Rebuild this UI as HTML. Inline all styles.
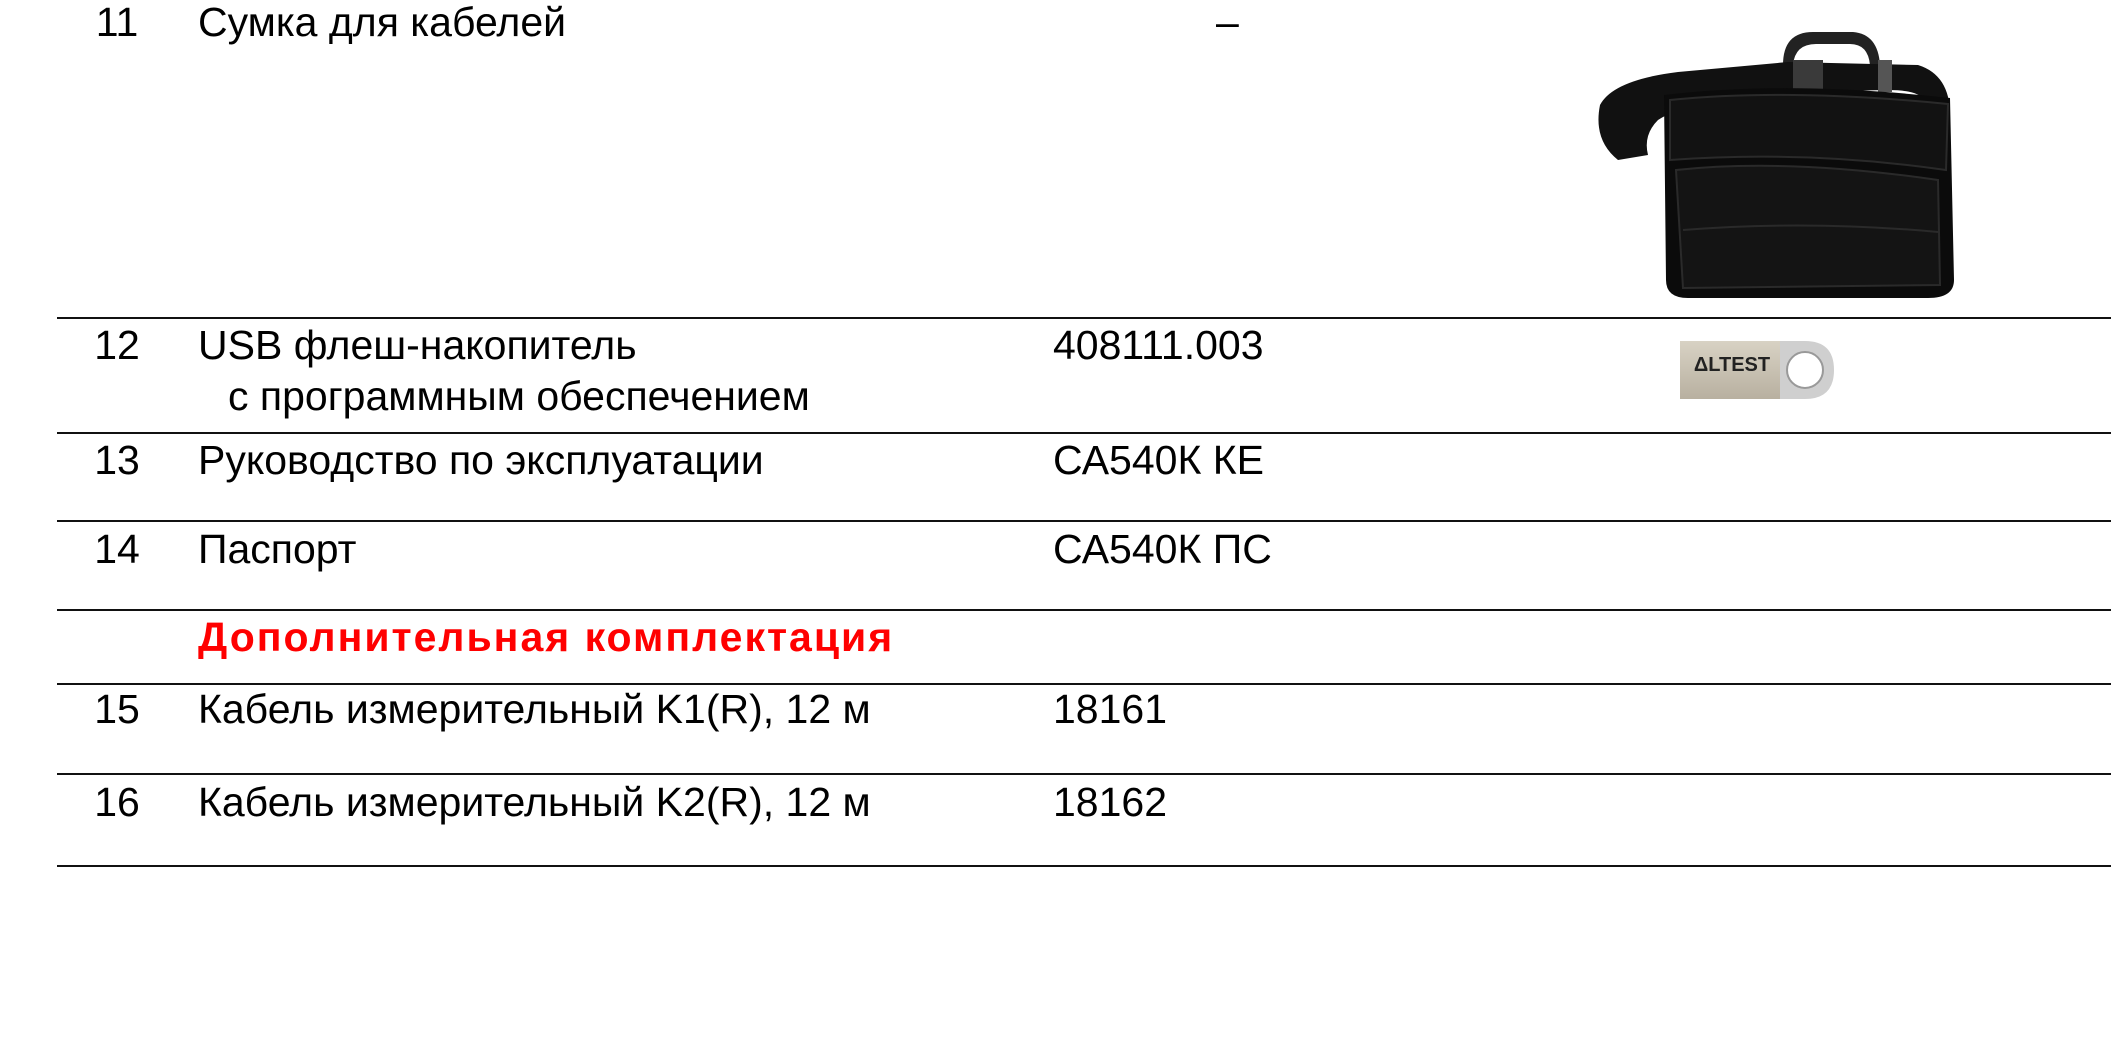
<!DOCTYPE html>
<html><head><meta charset="utf-8"><style>
body{margin:0;width:2111px;height:1040px;background:#fff;position:relative;overflow:hidden;font-family:"Liberation Sans",sans-serif;}
.t{position:absolute;font-size:41px;line-height:1;color:#000;white-space:nowrap;}
.l{position:absolute;left:57px;right:0;height:2px;background:#111;}
.n{width:50px;text-align:center;left:92px;}
</style></head><body>
<div class="t n" style="top:2px">11</div>
<div class="t" style="left:198px;top:2px">Сумка для кабелей</div>
<div class="t" style="left:1216px;top:2px">–</div>
<svg style="position:absolute;left:1588px;top:20px" width="370" height="280" viewBox="0 0 370 280">
<path d="M195 45 Q195 12 225 12 L265 12 Q290 14 292 45 L282 45 Q280 24 262 24 L228 24 Q207 24 205 45Z" fill="#222"/>
<path d="M30 140 Q5 120 12 85 Q25 60 90 52 L200 42 L330 45 Q362 55 362 95 L362 130 L338 130 L336 80 Q330 70 300 70 L200 72 Q100 80 70 100 Q55 115 60 135 Z" fill="#111"/>
<rect x="205" y="40" width="30" height="40" fill="#3a3a3a"/>
<rect x="290" y="40" width="14" height="32" fill="#555"/>
<path d="M76 75 Q200 60 362 78 L366 260 Q366 278 340 278 L100 278 Q78 278 78 260 Z" fill="#0b0b0b"/>
<path d="M82 80 Q200 68 360 84 L358 150 Q220 130 82 140 Z" fill="#121212" stroke="#2a2a2a" stroke-width="2"/>
<path d="M88 150 Q200 138 350 160 L352 265 L95 268 Z" fill="#141414" stroke="#2a2a2a" stroke-width="2"/>
<path d="M95 210 Q220 200 350 212" stroke="#2a2a2a" stroke-width="2" fill="none"/>
</svg>
<svg style="position:absolute;left:1680px;top:339px" width="154" height="63" viewBox="0 0 154 63">
<defs><linearGradient id="g" x1="0" y1="0" x2="0" y2="1"><stop offset="0" stop-color="#d8d2c4"/><stop offset="1" stop-color="#b8b0a0"/></linearGradient></defs>
<rect x="0" y="2" width="125" height="58" fill="url(#g)"/>
<path d="M100 2 L125 2 Q154 2 154 31 Q154 60 125 60 L100 60Z" fill="#cfcfcf"/>
<circle cx="125" cy="31" r="18" fill="#fff" stroke="#999" stroke-width="2"/>
<text x="52" y="32" font-family="Liberation Sans,sans-serif" font-size="20" font-weight="bold" text-anchor="middle" fill="#222">ΔLTEST</text>
</svg>
<div class="l" style="top:317px"></div>
<div class="t n" style="top:325px">12</div>
<div class="t" style="left:198px;top:325px">USB флеш-накопитель</div>
<div class="t" style="left:228px;top:376px">с программным обеспечением</div>
<div class="t" style="left:1053px;top:325px">408111.003</div>
<div class="l" style="top:432px"></div>
<div class="t n" style="top:440px">13</div>
<div class="t" style="left:198px;top:440px">Руководство по эксплуатации</div>
<div class="t" style="left:1053px;top:440px">СА540К КЕ</div>
<div class="l" style="top:520px"></div>
<div class="t n" style="top:529px">14</div>
<div class="t" style="left:198px;top:529px">Паспорт</div>
<div class="t" style="left:1053px;top:529px">СА540К ПС</div>
<div class="l" style="top:609px"></div>
<div class="t" style="left:198px;top:617px;color:#f00;font-weight:bold;letter-spacing:2px">Дополнительная комплектация</div>
<div class="l" style="top:683px"></div>
<div class="t n" style="top:689px">15</div>
<div class="t" style="left:198px;top:689px">Кабель измерительный K1(R), 12 м</div>
<div class="t" style="left:1053px;top:689px">18161</div>
<div class="l" style="top:773px"></div>
<div class="t n" style="top:782px">16</div>
<div class="t" style="left:198px;top:782px">Кабель измерительный K2(R), 12 м</div>
<div class="t" style="left:1053px;top:782px">18162</div>
<div class="l" style="top:865px"></div>
</body></html>
